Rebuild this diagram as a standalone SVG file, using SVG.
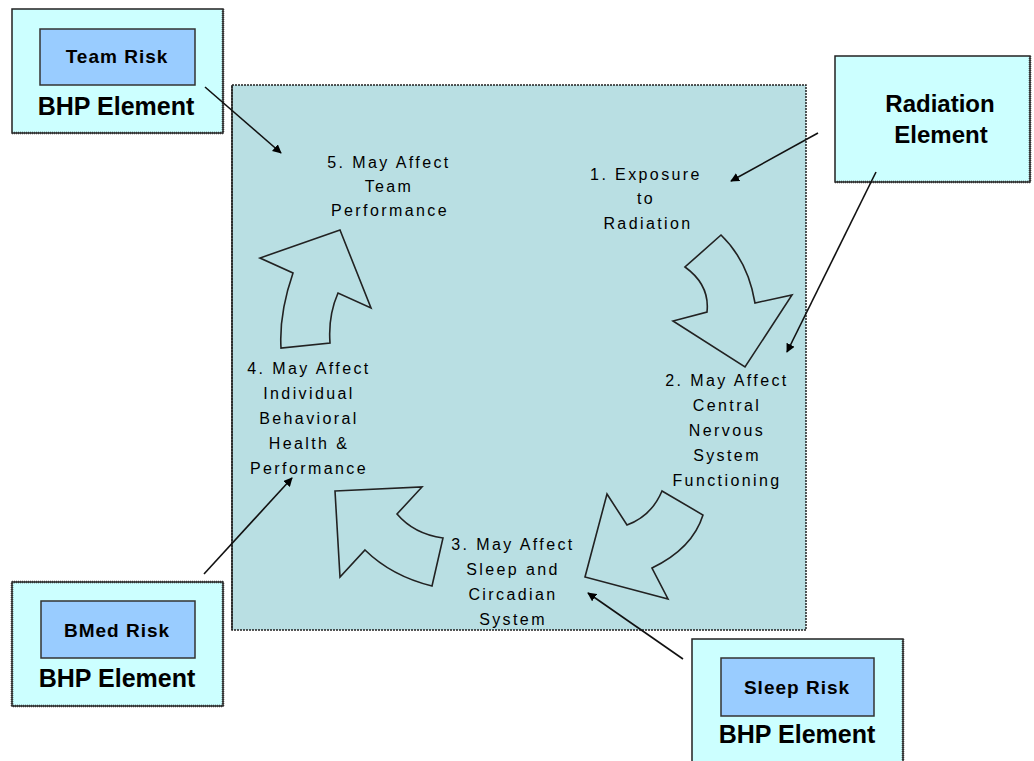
<svg xmlns="http://www.w3.org/2000/svg" width="1034" height="761" viewBox="0 0 1034 761">
<defs>
<style>
.outer{fill:#CCFFFF;stroke:#222;stroke-width:1.5}
.shadow{fill:none;stroke:#333;stroke-width:2.5;stroke-dasharray:1 1}
.inner{fill:#99CCFF;stroke:#333;stroke-width:1.5}
.risk{font-family:"Liberation Sans",Arial,sans-serif;font-weight:bold;font-size:19px;letter-spacing:1px;text-anchor:middle;fill:#000}
.elem{font-family:"Liberation Sans",Arial,sans-serif;font-weight:bold;font-size:25px;text-anchor:middle;fill:#000}
.lbl{font-family:"Liberation Sans",Arial,sans-serif;font-size:16px;letter-spacing:2.4px;text-anchor:middle;fill:#000}
.block{fill:none;stroke:#222;stroke-width:1.6;stroke-linejoin:miter}
.conn{stroke:#111;stroke-width:1.6;fill:none;marker-end:url(#ah)}
</style>
<marker id="ah" viewBox="0 0 10 10" refX="9" refY="5" markerWidth="9" markerHeight="9" markerUnits="userSpaceOnUse" orient="auto"><path d="M0,0 L10,5 L0,10 Z" fill="#000"/></marker>
<marker id="ahs" viewBox="0 0 10 10" refX="9" refY="5" markerWidth="13" markerHeight="13" markerUnits="userSpaceOnUse" orient="auto"><path d="M0,1 L10,5 L0,9 Z" fill="#000"/></marker>
</defs>
<rect width="1034" height="761" fill="#fff"/>

<g id="cycle">
<rect x="232" y="85" width="574" height="545" fill="#B9DFE3" stroke="#222" stroke-width="1.5" stroke-dasharray="2 1"/>
<line x1="232" y1="85" x2="232" y2="630" stroke="#222" stroke-width="1.5"/>
</g>

<g id="block-arrows">
<path class="block" d="M721,235 Q748,261 755,303 L792,295 L745,367 L673,321 L707,312 Q710,285 685,267 Z"/>
<path class="block" d="M662,491 L703,515 Q692.5,548.5 652,568 L668,599 L585,577 L607,494 L627,525 Q651.5,516 662,491 Z"/>
<path class="block" d="M335,491 L422,487 L397,514 Q414,534 443,538 L432,586 Q391.5,576 365,550 L340,577 Z"/>
<path class="block" d="M340,230 L371,308 L338,293 Q328,316 330,343 L281,348 Q279,313.5 293,273 L260,258 Z"/>
</g>

<g id="step1">
<text class="lbl" x="646" y="180">1. Exposure</text>
<text class="lbl" x="646" y="204">to</text>
<text class="lbl" x="648" y="229">Radiation</text>
</g>
<g id="step2">
<text class="lbl" x="727" y="386">2. May Affect</text>
<text class="lbl" x="727" y="411">Central</text>
<text class="lbl" x="727" y="436">Nervous</text>
<text class="lbl" x="727" y="461">System</text>
<text class="lbl" x="727" y="486">Functioning</text>
</g>
<g id="step3">
<text class="lbl" x="513" y="550">3. May Affect</text>
<text class="lbl" x="513" y="575">Sleep and</text>
<text class="lbl" x="513" y="600">Circadian</text>
<text class="lbl" x="513" y="625">System</text>
</g>
<g id="step4">
<text class="lbl" x="309" y="374">4. May Affect</text>
<text class="lbl" x="309" y="399">Individual</text>
<text class="lbl" x="309" y="424">Behavioral</text>
<text class="lbl" x="309" y="449">Health &amp;</text>
<text class="lbl" x="309" y="474">Performance</text>
</g>
<g id="step5">
<text class="lbl" x="389" y="168">5. May Affect</text>
<text class="lbl" x="389" y="192">Team</text>
<text class="lbl" x="390" y="216">Performance</text>
</g>

<g id="team-risk">
<rect class="outer" x="12" y="9" width="211" height="124"/>
<polyline class="shadow" points="223,9 223,133 12,133"/>
<rect class="inner" x="40" y="29" width="155" height="56"/>
<text class="risk" x="117" y="63">Team Risk</text>
<text class="elem" x="116" y="115">BHP Element</text>
</g>

<g id="radiation">
<rect class="outer" x="835" y="56" width="195" height="126"/>
<polyline class="shadow" points="1030,56 1030,182 835,182"/>
<text class="elem" x="940" y="112" style="font-size:24px">Radiation</text>
<text class="elem" x="941" y="143" style="font-size:24px">Element</text>
</g>

<g id="bmed-risk">
<rect class="outer" x="12" y="582" width="211" height="124"/>
<polyline class="shadow" points="12,582 223,582 223,706 12,706 12,582"/>
<rect class="inner" x="41" y="601" width="154" height="57"/>
<text class="risk" x="117" y="637">BMed Risk</text>
<text class="elem" x="117" y="687">BHP Element</text>
</g>

<g id="sleep-risk">
<rect class="outer" x="692" y="639" width="211" height="130"/>
<polyline class="shadow" points="903,639 903,770"/>
<rect class="inner" x="721" y="658" width="153" height="58"/>
<text class="risk" x="797" y="694">Sleep Risk</text>
<text class="elem" x="797" y="743">BHP Element</text>
</g>

<g id="connectors">
<line class="conn" x1="205" y1="87" x2="281" y2="153" marker-end="url(#ahs)"/>
<line class="conn" x1="818" y1="133" x2="731" y2="181" marker-end="url(#ahs)"/>
<line class="conn" x1="876" y1="172" x2="787" y2="352" stroke-width="1" marker-end="url(#ahs)"/>
<line class="conn" x1="204" y1="574" x2="292" y2="478" marker-end="url(#ahs)"/>
<line class="conn" x1="683" y1="659" x2="588" y2="593" marker-end="url(#ahs)"/>
</g>
</svg>
